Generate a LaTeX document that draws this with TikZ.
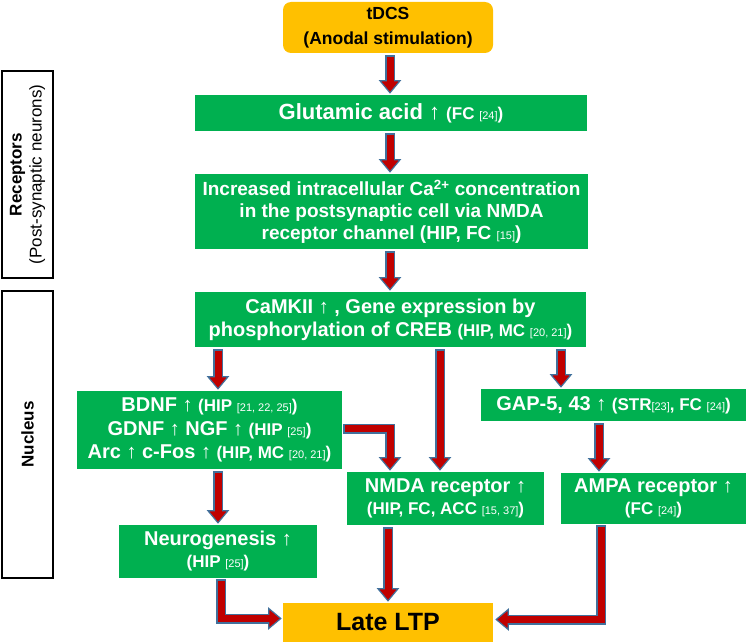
\documentclass[tikz,border=0pt]{standalone}
\usepackage{fontspec}
\setmainfont{Liberation Sans}
\usetikzlibrary{calc}
\definecolor{grn}{HTML}{00B050}
\definecolor{org}{HTML}{FFC000}
\definecolor{ared}{HTML}{C00000}
\definecolor{ablu}{HTML}{41719C}
\newcommand\rf[1]{{\mdseries\fontsize{11}{11}\selectfont[#1]}}
\newcommand\up{{\mdseries ↑}}
\newcommand\ps[1]{{\fontsize{17}{20}\selectfont #1}}
\newcommand\blk[3]{%
  \draw[bshaft,shorten >=11pt] #1;
  \pic[rotate=#3] at #2 {ahead};
  \draw[rshaft,shorten >=9pt,shorten <=1.5pt] #1;}
\newcommand\blkd[3]{\blk{($(#1.south -| #3)+(0,2)$) -- ($(#2.north -| #3)+(0,-2)$)}{($(#2.north -| #3)+(0,-2)$)}{-90}}
\begin{document}
\begin{tikzpicture}[x=1pt,y=-1pt,
  gbox/.style={fill=grn, text=white, font=\bfseries\fontsize{20}{23.5}\selectfont, align=center, inner sep=0pt},
  obox/.style={fill=org, text=black, align=center, inner sep=0pt},
  lbox/.style={draw=black, line width=1.6pt, fill=white, inner sep=0pt},
  ltext/.style={rotate=90, align=center, font=\fontsize{17}{20}\selectfont, inner sep=0pt},
  bshaft/.style={draw=ablu, line width=10pt, line join=miter},
  rshaft/.style={draw=ared, line width=7pt, line join=miter},
  ahead/.pic={\filldraw[fill=ared, draw=ablu, line width=1.2pt, line join=miter] (0,0) -- (-12,-10) -- (-12,10) -- cycle;}
]
\useasboundingbox (0,0) rectangle (747,642);

% side labels
\node[lbox, minimum width=51pt, minimum height=207pt] (rec) at (27.5,174.5) {};
\node[ltext] (rect) at (rec.center) {\textbf{Receptors}\\(Post-synaptic neurons)};
\node[lbox, minimum width=51pt, minimum height=287pt] (nuc) at (27.5,434.5) {};
\node[ltext] (nuct) at (nuc.center) {\textbf{Nucleus}};

% boxes
\node[obox, rounded corners=8pt, minimum width=210pt, minimum height=51pt, font=\bfseries\fontsize{17.5}{25}\selectfont] (tdcs) at (388,27.5) {tDCS\\(Anodal stimulation)};
\node[gbox, minimum width=392pt, minimum height=36pt, font=\bfseries\fontsize{22}{24}\selectfont] (glut) at (391,113) {Glutamic acid \up\ \ps{(FC \rf{24})}};
\node[gbox, minimum width=393pt, minimum height=75pt, font=\bfseries\fontsize{19}{22}\selectfont] (ca) at (391.5,211.5) {Increased intracellular Ca\textsuperscript{2+} concentration\\in the postsynaptic cell via NMDA\\receptor channel (HIP, FC \rf{15})};
\node[gbox, minimum width=391pt, minimum height=55pt, font=\bfseries\fontsize{20}{23}\selectfont] (camk) at (390.5,319.5) {CaMKII \up\ , Gene expression by\\phosphorylation of CREB \ps{(HIP, MC \rf{20, 21})}};
\node[gbox, minimum width=265pt, minimum height=78pt] (bdnf) at (209.5,430) {BDNF \up\ \ps{(HIP \rf{21, 22, 25})}\\GDNF \up\ NGF \up\ \ps{(HIP \rf{25})}\\Arc \up\ c-Fos \up\ \ps{(HIP, MC \rf{20, 21})}};
\node[gbox, minimum width=265pt, minimum height=32pt] (gap) at (613.5,405) {GAP-5, 43 \up\ \ps{(STR\rf{23}, FC \rf{24})}};
\node[gbox, minimum width=197pt, minimum height=53pt, font=\bfseries\fontsize{20}{22}\selectfont] (nmda) at (445.5,498.5) {NMDA receptor \up\\\ps{(HIP, FC, ACC \rf{15, 37})}};
\node[gbox, minimum width=185pt, minimum height=51pt, font=\bfseries\fontsize{20}{22}\selectfont] (ampa) at (653.5,498.5) {AMPA receptor \up\\\ps{(FC \rf{24})}};
\node[gbox, minimum width=198pt, minimum height=53pt, font=\bfseries\fontsize{20}{22}\selectfont] (neuro) at (218,551.5) {Neurogenesis \up\\\ps{(HIP \rf{25})}};
\node[obox, minimum width=210pt, minimum height=39pt, font=\bfseries\fontsize{25}{28}\selectfont] (ltp) at (388,622.5) {Late LTP};

% columns and rows for connectors
\coordinate (c1) at (390,0);
\coordinate (cL) at (218,0);
\coordinate (cM) at (440,0);
\coordinate (cR) at (561,0);
\coordinate (cG) at (599,0);
\coordinate (cN) at (388,0);
\coordinate (cB) at (390,0);
\coordinate (cE) at (221,0);
\coordinate (cA) at (601,0);
\coordinate (rB) at (0,428.5);
\coordinate (rL) at (0,618.5);
\coordinate (rA) at (0,619.5);

% arrows
\blkd{tdcs}{glut}{c1}
\blkd{glut}{ca}{c1}
\blkd{ca}{camk}{c1}
\blkd{camk}{bdnf}{cL}
\blkd{camk}{nmda}{cM}
\blkd{camk}{gap}{cR}
\blkd{gap}{ampa}{cG}
\blkd{bdnf}{neuro}{cL}
\blkd{nmda}{ltp}{cN}
\blk{($(bdnf.east |- rB)+(1,0)$) -- (cB |- rB) -- ($(nmda.north -| cB)+(0,-2)$)}{($(nmda.north -| cB)+(0,-2)$)}{-90}
\blk{($(neuro.south -| cE)+(0,1)$) -- (cE |- rL) -- ($(ltp.west |- rL)+(-2,0)$)}{($(ltp.west |- rL)+(-2,0)$)}{0}
\blk{($(ampa.south -| cA)+(0,1)$) -- (cA |- rA) -- ($(ltp.east |- rA)+(3,0)$)}{($(ltp.east |- rA)+(3,0)$)}{180}
\end{tikzpicture}
\end{document}
